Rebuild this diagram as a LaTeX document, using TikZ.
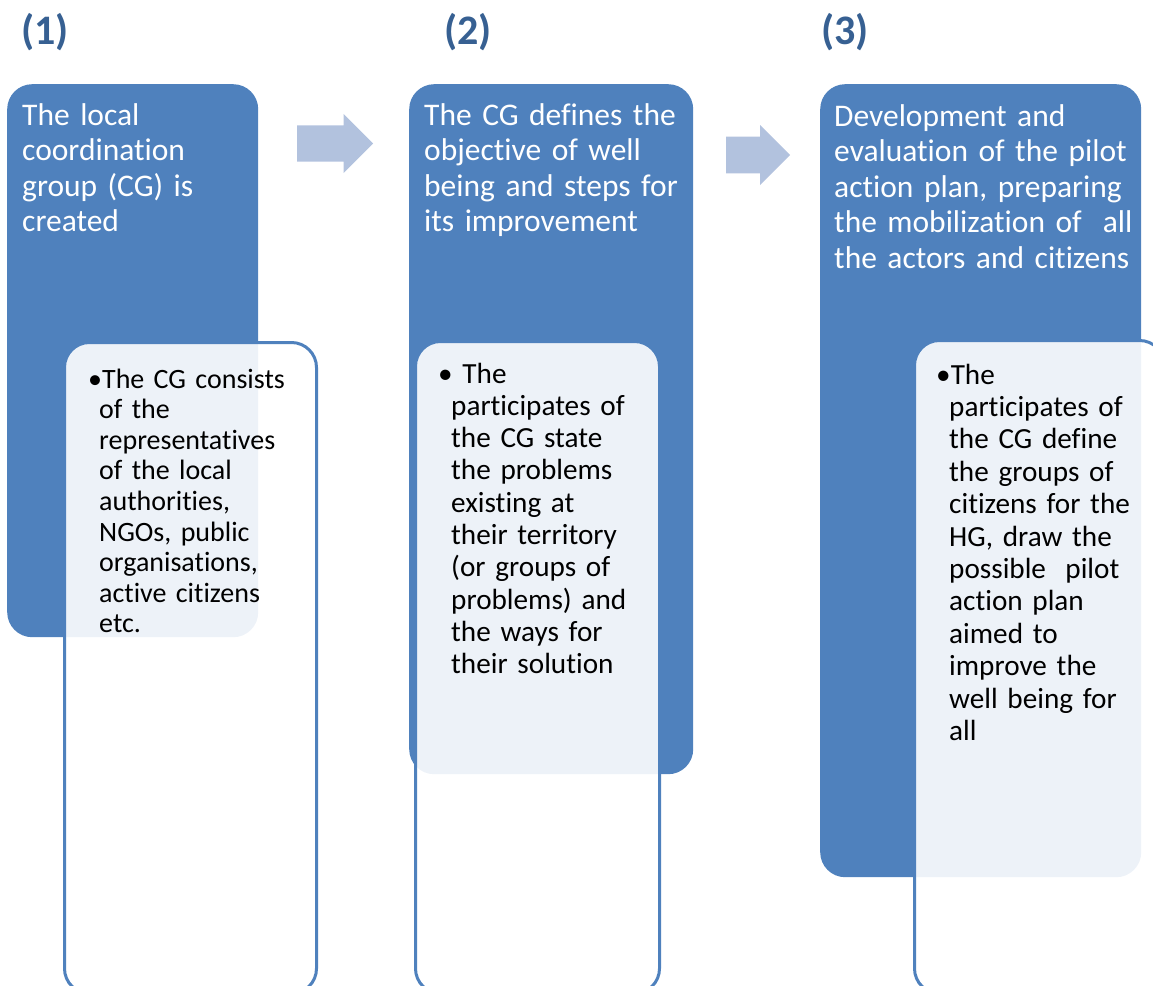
\documentclass[tikz,border=0pt]{standalone}
\usepackage{fontspec}
\setmainfont{Carlito}[Ligatures=CommonOff]
\usetikzlibrary{shapes.arrows}

\definecolor{stageblue}{RGB}{79,129,189}
\definecolor{numblue}{RGB}{55,96,146}
\definecolor{flowarrow}{RGB}{178,194,222}

\begin{document}
\begin{tikzpicture}[x=1pt,y=-1pt,
    stage/.style={fill=stageblue,rounded corners=25pt,anchor=north west,inner sep=0pt},
    detail/.style={draw=stageblue,line width=3pt,fill=white,fill opacity=0.9,
                   rounded corners=25pt,anchor=north west,inner sep=0pt},
    headtext/.style={anchor=base west,inner sep=0pt,text=white,text width=330pt,align=left,
                     font=\fontsize{31.5}{35.5}\selectfont},
    bullettext/.style={anchor=base west,inner sep=0pt,text width=200pt,align=left},
    number/.style={anchor=base west,inner sep=0pt,text=numblue,
                   font=\fontsize{42}{44}\selectfont\bfseries},
    flow/.style={single arrow,fill=flowarrow,inner sep=0pt,text height=36pt,text depth=0pt,
                 single arrow head extend=11.5pt,anchor=tail}]

  \useasboundingbox (0,0) rectangle (1153,985);

  % step numbers
  \node[number] (n1) at (21,44)  {(1)};
  \node[number] (n2) at (444,44) {(2)};
  \node[number] (n3) at (821,44) {(3)};

  % blue stage boxes with the overlapping detail boxes
  \node[stage,minimum width=251pt,minimum height=553pt]  (s1) at (7,84)   {};
  \node[detail,minimum width=252pt,minimum height=651pt] (d1) at (63,341)  {};
  \node[stage,minimum width=284pt,minimum height=690pt]  (s2) at (409,84) {};
  \node[detail,minimum width=244pt,minimum height=652pt] (d2) at (414,340) {};
  \node[stage,minimum width=321pt,minimum height=793pt]  (s3) at (820,84) {};
  \node[detail,minimum width=250pt,minimum height=653pt] (d3) at (913,339) {};

  % arrows between the stages
  \node[flow,minimum height=76pt,minimum width=59pt] (a12) at (297,143.5) {};
  \node[flow,minimum height=64pt,minimum width=60pt] (a23) at (726,155)   {};

  % stage titles
  \node[headtext] (h1) at (22,125)  {The local\\coordination\\group (CG) is\\created};
  \node[headtext] (h2) at (424,125) {The CG defines the\\objective of well\\being and steps for\\its improvement};
  \node[headtext] (h3) at (834,126) {Development and\\evaluation of the pilot\\action plan, preparing\\the mobilization of\ \ all\\the actors and citizens};

  % bullet texts
  \node[bullettext,font=\fontsize{28}{30.6}\selectfont] (t1) at (99,388)
    {\hspace*{-11pt}\textbullet The CG consists\\of the\\representatives\\of the local\\authorities,\\NGOs, public\\organisations,\\active citizens\\etc.};
  \node[bullettext,font=\fontsize{29.2}{32.3}\selectfont] (t2) at (451,383)
    {\hspace*{-13pt}\textbullet{} The\\participates of\\the CG state\\the problems\\existing at\\their territory\\(or groups of\\problems) and\\the ways for\\their solution};
  \node[bullettext,font=\fontsize{29.2}{32.4}\selectfont] (t3) at (949,384)
    {\hspace*{-13pt}\textbullet The\\participates of\\the CG define\\the groups of\\citizens for the\\HG, draw the\\possible\ \ pilot\\action plan\\aimed to\\improve the\\well being for\\all};
\end{tikzpicture}
\end{document}
